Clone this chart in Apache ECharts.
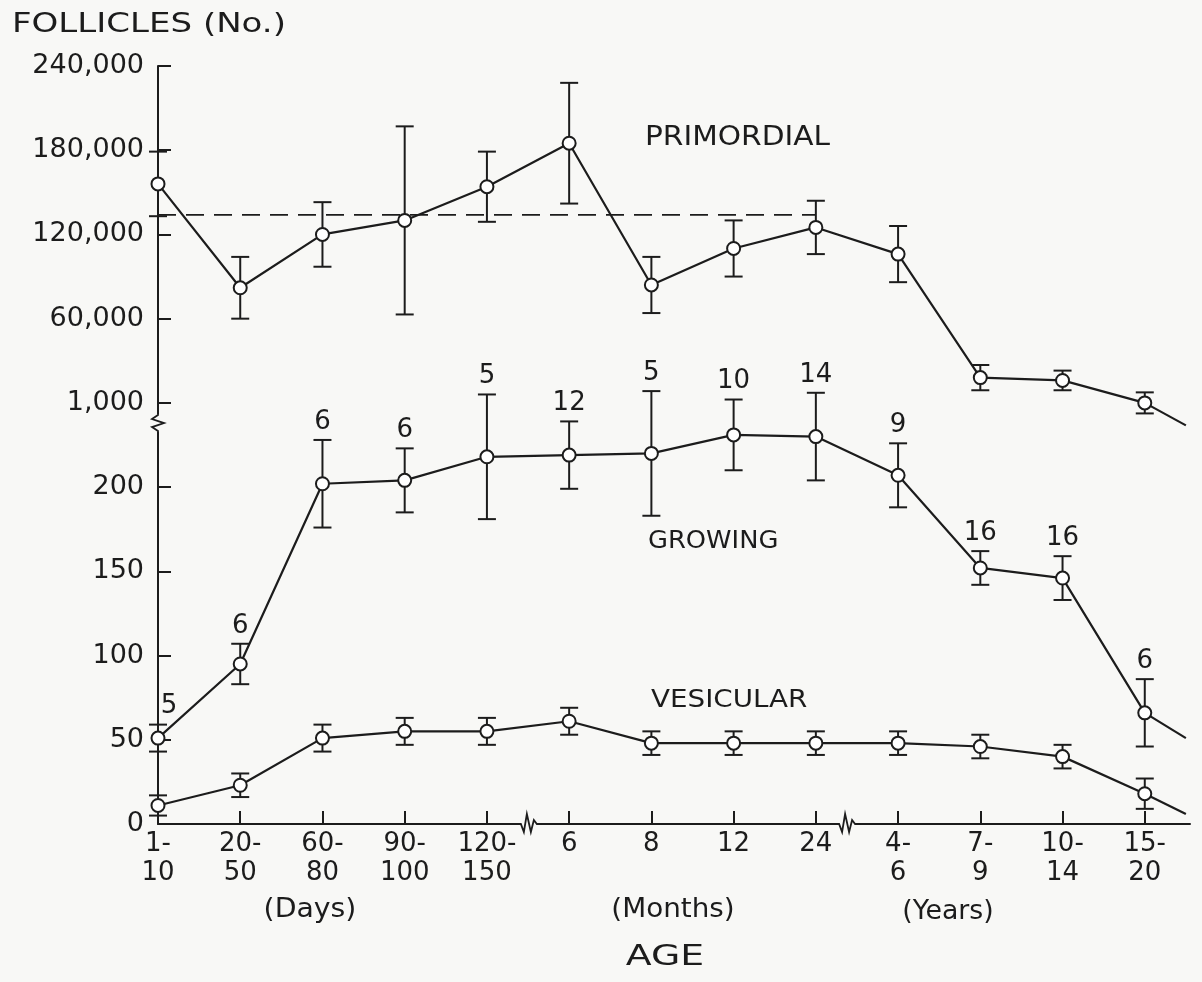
<!DOCTYPE html>
<html><head><meta charset="utf-8">
<script src="https://cdn.jsdelivr.net/npm/echarts@6/dist/echarts.min.js"></script>
<style>html,body{margin:0;padding:0;background:#f8f8f6}#c{width:1202px;height:982px}</style>
</head><body><div id="c"></div>
<script>
// ---------- data ----------
const ageLabels = ['1-\n10','20-\n50','60-\n80','90-\n100','120-\n150','6','8','12','24','4-\n6','7-\n9','10-\n14','15-\n20'];
const primordialMean = [156000, 82000, 120000, 130000, 154000, 185000, 84000, 110000, 125000, 106000, 18000, 16000, 0];
const primordialErr  = [23000, 22000, 23000, 67000, 25000, 43000, 20000, 20000, 19000, 20000, 9000, 7000, 7500];
const primordialReference = 134000;      // dashed horizontal line (1-10 days .. 24 months)
const growingMean = [51, 95, 202, 204, 218, 219, 220, 231, 230, 207, 152, 146, 66];
const growingErr  = [8, 12, 26, 19, 37, 20, 37, 21, 26, 19, 10, 13, 20];
const growingN    = [5, 6, 6, 6, 5, 12, 5, 10, 14, 9, 16, 16, 6];
const vesicularMean = [11, 23, 51, 55, 55, 61, 48, 48, 48, 48, 46, 40, 18];
const vesicularErr  = [6, 7, 8, 8, 8, 8, 7, 7, 7, 7, 7, 7, 9];
const tailEnd = { primordial: -16000, growing: 51, vesicular: 6 }; // line continuation at right edge
const yTickValues = [0, 50, 100, 150, 200, 250, 300, 350, 400, 450];
const yTickLabels = ['0', '50', '100', '150', '200', '1,000', '60,000', '120,000', '180,000', '240,000'];

// ---------- helpers ----------
const FONT = '"DejaVu Sans", sans-serif';
const INK = '#1c1c1c';
const BG = '#f8f8f6';
// upper (broken) part of the axis: 1,000 at 250, then 60,000 per 50 display units
const primDisp = v => 250 + v / 1200;
const idx = ageLabels.map((_, i) => i);
const tailX = 12.5;

function errData(mean, err, tf) {
  return mean.map((m, i) => [i, tf(m - err[i]), tf(m + err[i]), i]);
}
function lineData(mean, tf) { return mean.map((m, i) => [i, tf(m)]); }
const id = v => v;

function errRender(withN) {
  return function (params, api) {
    const x = api.value(0);
    const lo = api.coord([x, api.value(1)]);
    const hi = api.coord([x, api.value(2)]);
    const w = 9;
    const st = { stroke: INK, lineWidth: 2 };
    const ch = [
      { type: 'line', shape: { x1: lo[0], y1: lo[1], x2: hi[0], y2: hi[1] }, style: st },
      { type: 'line', shape: { x1: lo[0] - w, y1: lo[1], x2: lo[0] + w, y2: lo[1] }, style: st },
      { type: 'line', shape: { x1: hi[0] - w, y1: hi[1], x2: hi[0] + w, y2: hi[1] }, style: st }
    ];
    if (withN) {
      const i = api.value(3);
      ch.push({ type: 'text', style: { text: String(growingN[i]), x: hi[0] + (i === 0 ? 11 : 0), y: hi[1] - 5,
        align: 'center', verticalAlign: 'bottom', font: '26px ' + FONT, fill: INK } });
    }
    return { type: 'group', children: ch };
  };
}

function breakRender(params, api) {
  const p = api.coord([api.value(0), api.value(1)]);
  const vertical = api.value(2) === 0;
  const x = p[0], y = p[1];
  const st = { stroke: INK, lineWidth: 1.8, fill: null };
  if (vertical) {
    return { type: 'group', children: [
      { type: 'rect', shape: { x: x - 4, y: y - 9, width: 8, height: 18 }, style: { fill: BG } },
      { type: 'polyline', shape: { points: [[x, y - 12], [x, y - 8], [x - 6, y - 4], [x + 6, y], [x - 6, y + 4], [x, y + 8], [x, y + 12]] }, style: st }
    ] };
  }
  return { type: 'group', children: [
    { type: 'rect', shape: { x: x - 10, y: y - 3, width: 20, height: 6 }, style: { fill: BG } },
    { type: 'polyline', shape: { points: [[x - 13, y], [x - 8, y], [x - 5, y + 8], [x - 2, y - 10], [x + 2, y + 8], [x + 5, y - 4], [x + 8, y], [x + 13, y]] }, style: st }
  ] };
}

const lineStyleBase = { color: INK, width: 2.2 };
const itemStyleBase = { color: '#fff', borderColor: INK, borderWidth: 2 };

function mainLine(name, data) {
  return { name, type: 'line', data, symbol: 'circle', symbolSize: 13, showSymbol: true,
    lineStyle: lineStyleBase, itemStyle: itemStyleBase, z: 5, clip: false, animation: false, silent: true };
}
function tailLine(data) {
  return { type: 'line', data, symbol: 'none', lineStyle: lineStyleBase, z: 4, clip: false, animation: false, silent: true };
}
function errSeries(data, withN) {
  return { type: 'custom', data, renderItem: errRender(withN), z: 3, clip: false, animation: false, silent: true };
}
function txt(text, x, y, size, sx, align) {
  return { type: 'text', x, y, scaleX: sx, style: { text, font: size + 'px ' + FONT, fill: INK,
    align: align || 'left', verticalAlign: 'middle' } };
}

const pLast = primordialMean.length - 1;

const option = {
  backgroundColor: BG,
  animation: false,
  grid: { left: 158, right: 12, top: 66, bottom: 158 },
  xAxis: {
    type: 'value', min: 0, max: 12.55,
    axisLine: { lineStyle: { color: INK, width: 2 } },
    axisTick: { inside: true, length: 13, customValues: idx, lineStyle: { color: INK, width: 2 } },
    axisLabel: { customValues: idx, formatter: v => ageLabels[Math.round(v)], color: INK,
      fontFamily: FONT, fontSize: 26, lineHeight: 29, margin: 6 },
    splitLine: { show: false }
  },
  yAxis: {
    type: 'value', min: 0, max: 450, interval: 50,
    axisLine: { show: true, lineStyle: { color: INK, width: 2 } },
    axisTick: { show: true, inside: true, length: 13, customValues: yTickValues, lineStyle: { color: INK, width: 2 } },
    axisLabel: { customValues: yTickValues, formatter: v => yTickLabels[yTickValues.indexOf(v)], color: INK,
      fontFamily: FONT, fontSize: 27, margin: 14 },
    splitLine: { show: false }
  },
  graphic: [
    txt('FOLLICLES (No.)', 12, 25, 27, 1.26),
    txt('PRIMORDIAL', 645, 138, 26, 1.14),
    txt('GROWING', 648, 541, 25, 1.03),
    txt('VESICULAR', 651, 700, 25, 1.11),
    txt('(Days)', 310, 910, 26, 1.09, 'center'),
    txt('(Months)', 673, 910, 26, 1.07, 'center'),
    txt('(Years)', 948, 912, 26, 1.03, 'center'),
    txt('AGE', 665, 958, 28, 1.35, 'center')
  ],
  series: [
    errSeries(errData(primordialMean, primordialErr, primDisp), false),
    errSeries(errData(growingMean, growingErr, id), true),
    errSeries(errData(vesicularMean, vesicularErr, id), false),
    { type: 'line', data: [[0, primDisp(primordialReference)], [8, primDisp(primordialReference)]], symbol: 'none',
      lineStyle: { color: INK, width: 1.8, type: [18, 10] }, z: 2, animation: false, silent: true },
    tailLine([[pLast, primDisp(primordialMean[pLast])], [tailX, primDisp(tailEnd.primordial)]]),
    tailLine([[pLast, growingMean[pLast]], [tailX, tailEnd.growing]]),
    tailLine([[pLast, vesicularMean[pLast]], [tailX, tailEnd.vesicular]]),
    mainLine('Primordial', lineData(primordialMean, primDisp)),
    mainLine('Growing', lineData(growingMean, id)),
    mainLine('Vesicular', lineData(vesicularMean, id)),
    { type: 'custom', data: [[0, 238, 0], [4.51, 0, 1], [8.38, 0, 1]], renderItem: breakRender, z: 10, clip: false, animation: false, silent: true }
  ]
};
const chart = echarts.init(document.getElementById('c'), null, { renderer: 'canvas' });
chart.setOption(option);
</script>
</body></html>
